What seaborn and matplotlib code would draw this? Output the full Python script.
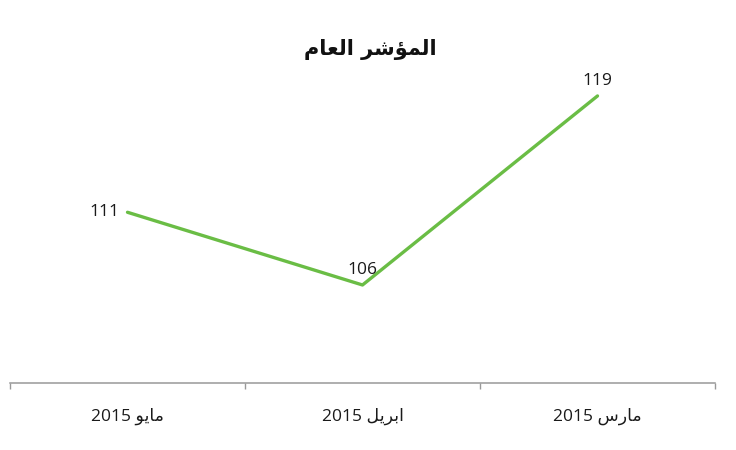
import matplotlib
matplotlib.use("Agg")
import matplotlib.pyplot as plt
import seaborn as sns
import pandas as pd

# Arabic text pre-shaped into presentation forms, in visual (left-to-right) order
title_text = "\uFEE1\uFE8E\uFECC\uFEDF\uFE8D \uFEAE\uFEB7\uFE86\uFEE4\uFEDF\uFE8D"  # المؤشر العام
categories = [
    "2015 \uFEEE\uFEF3\uFE8E\uFEE3",        # مايو 2015
    "2015 \uFEDE\uFEF3\uFEAE\uFE91\uFE8D",  # ابريل 2015
    "2015 \uFEB1\uFEAD\uFE8E\uFEE3",        # مارس 2015
]
values = [111, 106, 119]

df = pd.DataFrame({"month": categories, "value": values})

sns.set_theme(style="white")
plt.rcParams["font.family"] = ["Open Sans", "DejaVu Sans"]

fig = plt.figure(figsize=(7.36, 4.5), dpi=100)
ax = fig.add_axes([10 / 736, 1 - 383 / 450, 705 / 736, (383 - 75) / 450])

sns.lineplot(data=df, x="month", y="value", ax=ax, color="#6abd45",
             linewidth=2.4, sort=False)

xs = list(range(len(categories)))
for i, (x, v) in enumerate(zip(xs, values)):
    if i == 0:
        ax.annotate(str(v), (x, v), xytext=(-6, 0), textcoords="offset points",
                    ha="right", va="center", fontsize=12.5, color="#1a1a1a")
    else:
        ax.annotate(str(v), (x, v), xytext=(0, 5), textcoords="offset points",
                    ha="center", va="bottom", fontsize=12.5, color="#1a1a1a")

ax.set_xlim(-0.5, len(categories) - 0.5)
ax.set_ylim(99.26, 120.44)
ax.set_xticks(xs)
ax.set_xticklabels(categories, fontsize=12.5, color="#1a1a1a",
                   family=["Open Sans", "DejaVu Sans"])
ax.set_xticks([i - 0.5 for i in range(len(categories) + 1)], minor=True)
ax.tick_params(axis="x", which="major", length=0, pad=18)
ax.tick_params(axis="x", which="minor", length=4.5, width=1.0, color="#999999",
               direction="out", bottom=True)
ax.set_yticks([])
ax.set_xlabel("")
ax.set_ylabel("")
for s in ["top", "left", "right"]:
    ax.spines[s].set_visible(False)
ax.spines["bottom"].set_color("#999999")
ax.spines["bottom"].set_linewidth(1.1)

fig.text(370 / 736, 1 - 49 / 450, title_text, ha="center", va="center",
         fontsize=15, fontweight="bold", color="#111111",
         family=["DejaVu Sans"])

fig.savefig("out.png", dpi=100)
